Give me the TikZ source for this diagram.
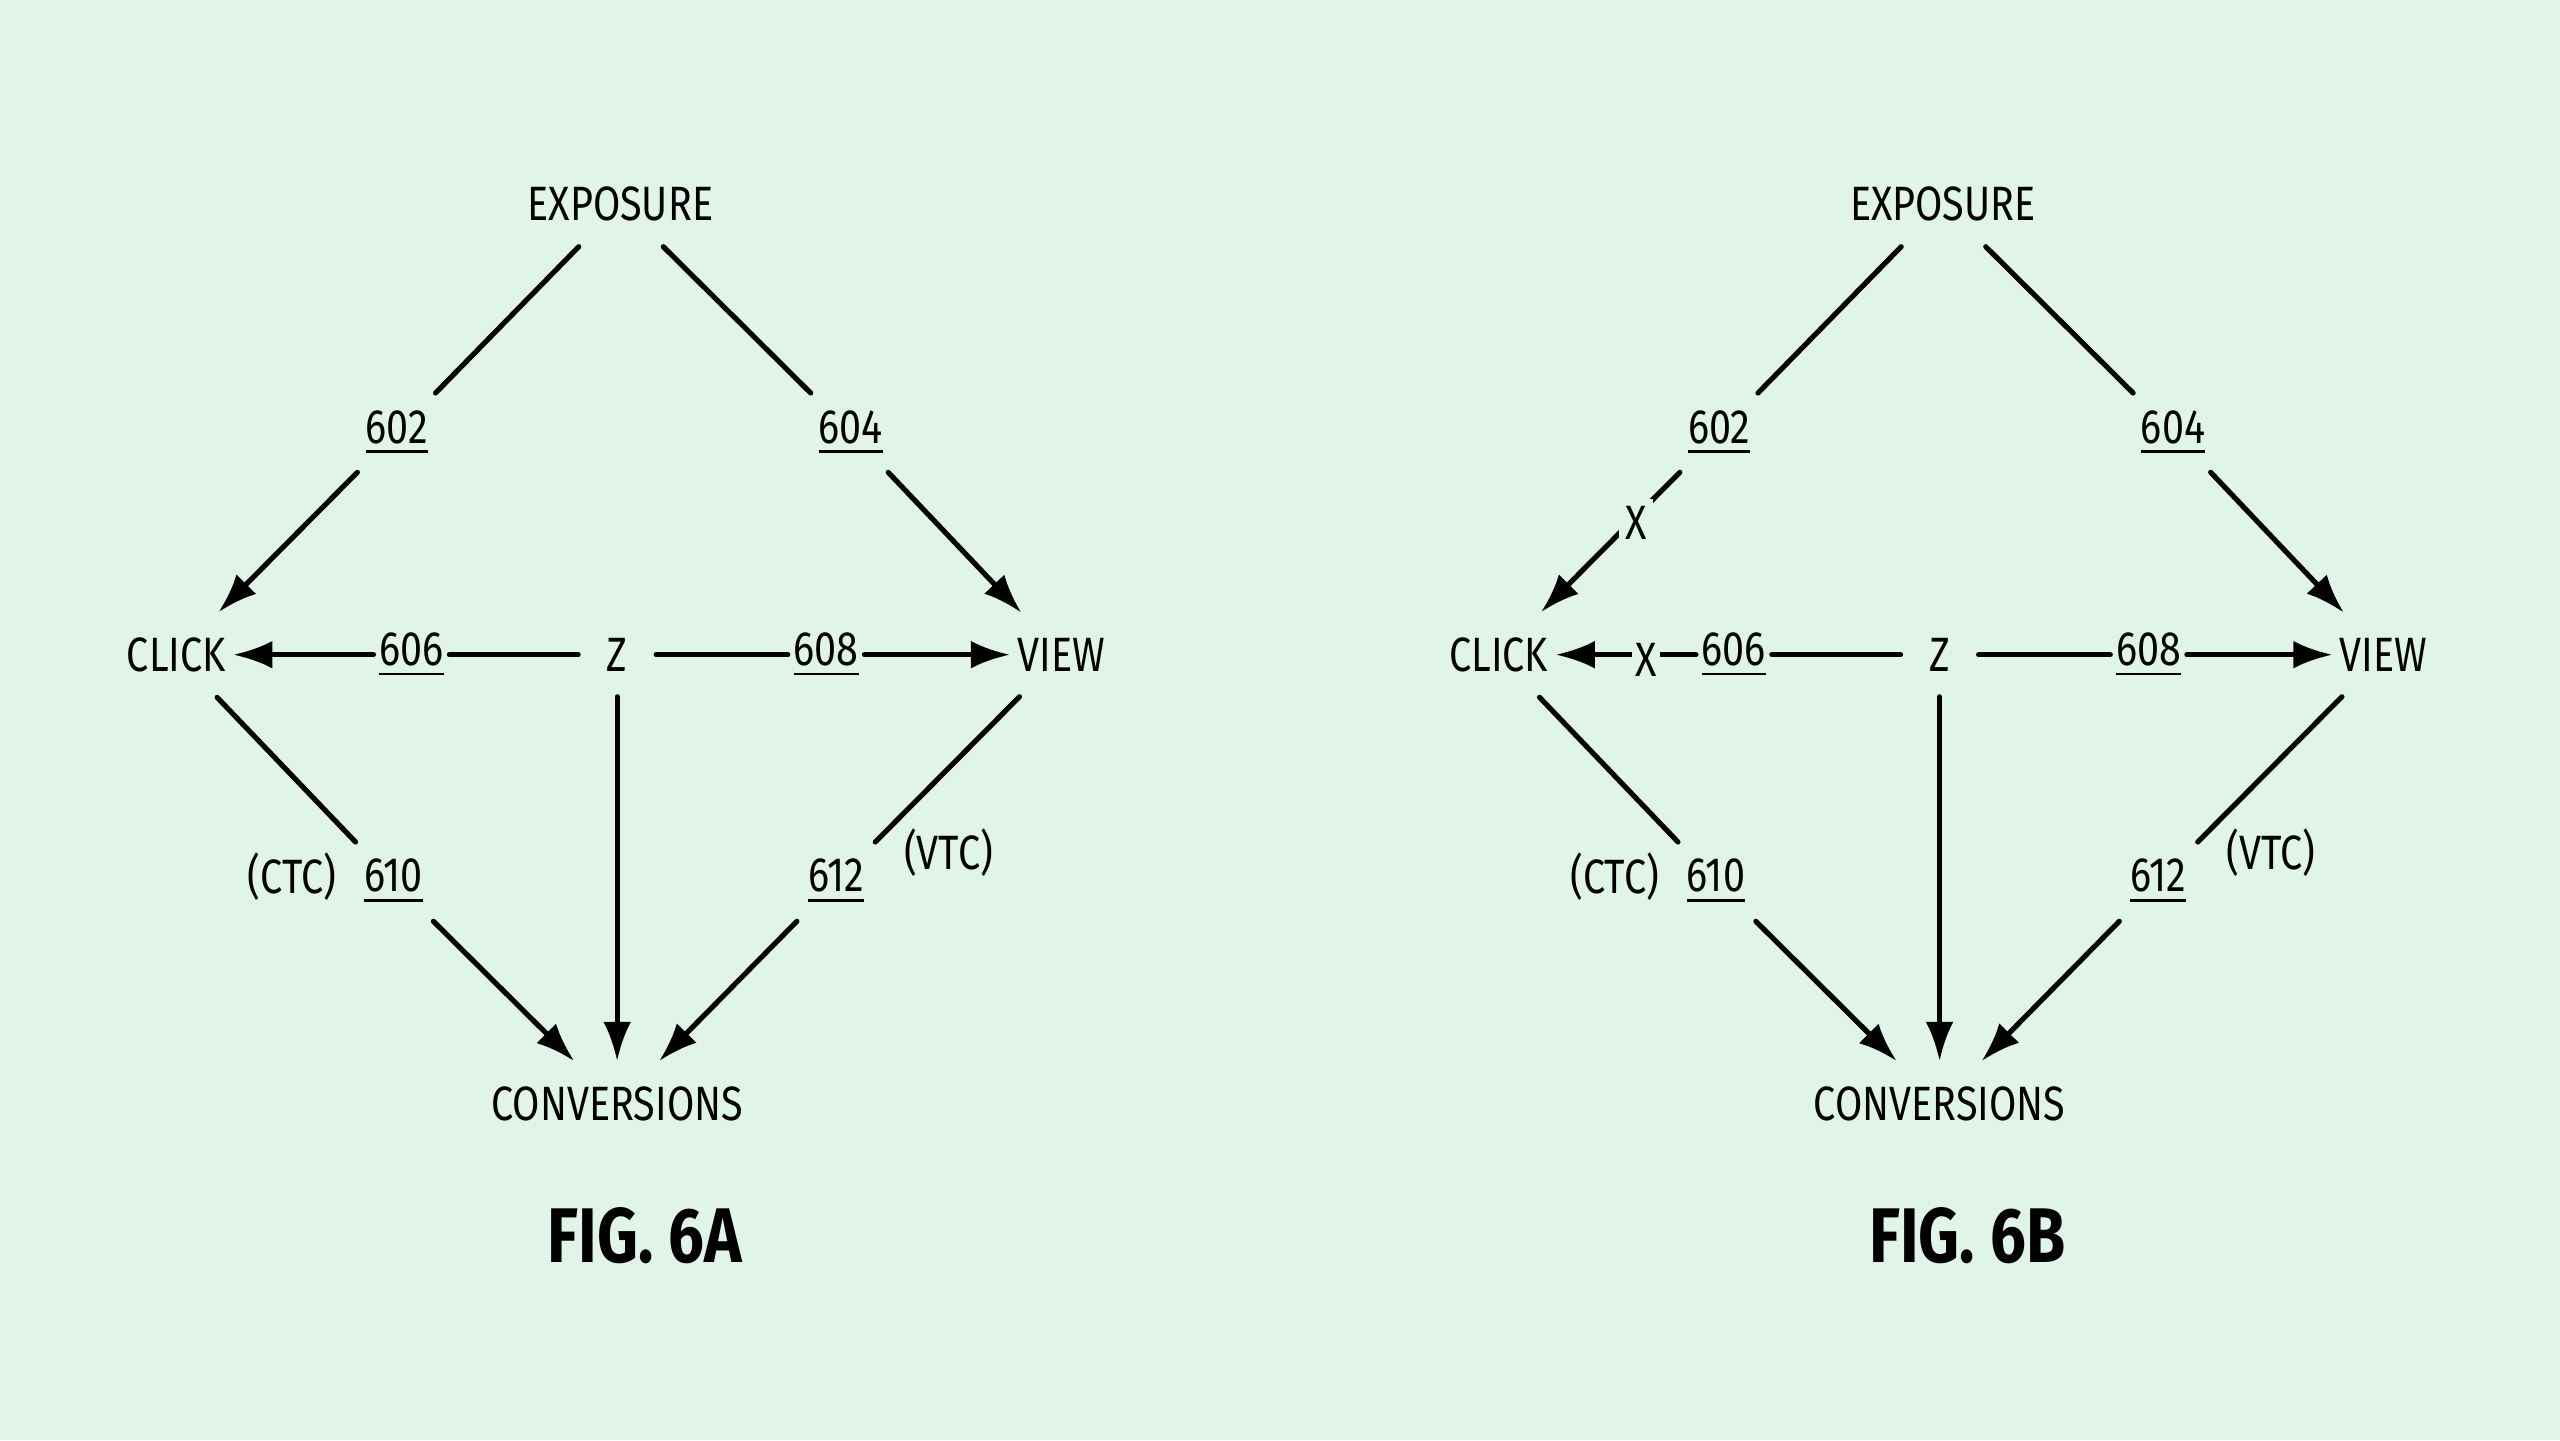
\documentclass[tikz,border=0pt]{standalone}
\usepackage{fontspec}
\setmainfont[FakeStretch=0.82]{Fira Sans}
\usetikzlibrary{arrows.meta}
\definecolor{bgcol}{HTML}{E0F5E7}

\begin{document}
\begin{tikzpicture}[x=0.1mm,y=-0.1mm,line width=0.9pt,line cap=round,
  box/.style={inner sep=1.4mm,font=\fontsize{8.4}{10}\selectfont},
  num/.style={inner sep=0.9mm,font=\fontsize{8.4}{10}\selectfont},
  hnum/.style={num,inner xsep=0.2mm},
  xmark/.style={fill=bgcol,inner sep=0.4mm,font=\fontsize{8.4}{10}\selectfont},
  arr/.style={-{Latex[length=2.4mm,width=1.7mm]}}]
\fill[bgcol] (0,0) rectangle (1568,882);
\useasboundingbox (0,0) rectangle (1568,882);

\foreach \dx/\fig in {0/A,810/B}{
\begin{scope}[shift={(\dx,0)}]
% main nodes
\node[box] (expo) at (380,125) {EXPOSURE};
\node[box,inner xsep=0.3mm] (click) at (108,401) {CLICK};
\node[box,inner xsep=1.6mm] (z) at (378,401) {Z};
\node[box,inner xsep=0.3mm] (view) at (650,401) {VIEW};
\node[box] (conv) at (378,676) {CONVERSIONS};
% reference numbers
\node[num] (n602) at (243,265) {\underline{602}};
\node[num] (n604) at (521,265) {\underline{604}};
\node[hnum] (n606) at (252,401) {\underline{606}};
\node[hnum] (n608) at (506,401) {\underline{608}};
\node[num] (n610) at (241,540) {\underline{610}};
\node[num] (n612) at (512,540) {\underline{612}};
\node[num] (ctc) at (179,537) {(CTC)};
\node[num] (vtc) at (581,522) {(VTC)};
\node[font=\fontsize{13.5}{16}\bfseries\selectfont] (cap) at (395,757) {FIG. 6\fig};

\draw (expo) -- (n602);
\draw[arr] (n602) -- (click);
\draw (expo) -- (n604);
\draw[arr] (n604) -- (view);
\draw[arr] (n606) -- (click);
\draw (z) -- (n606);
\draw (z) -- (n608);
\draw[arr] (n608) -- (view);
\draw[arr] (z) -- (conv);
\draw (click) -- (n610);
\draw[arr] (n610) -- (conv);
\draw (view) -- (n612);
\draw[arr] (n612) -- (conv);
\end{scope}
}

% blocked paths in 6B
\node[xmark] (xa) at (1002,320) {X};
\node[xmark,inner xsep=0.2mm] (xb) at (1008,404) {X};
\end{tikzpicture}
\end{document}
